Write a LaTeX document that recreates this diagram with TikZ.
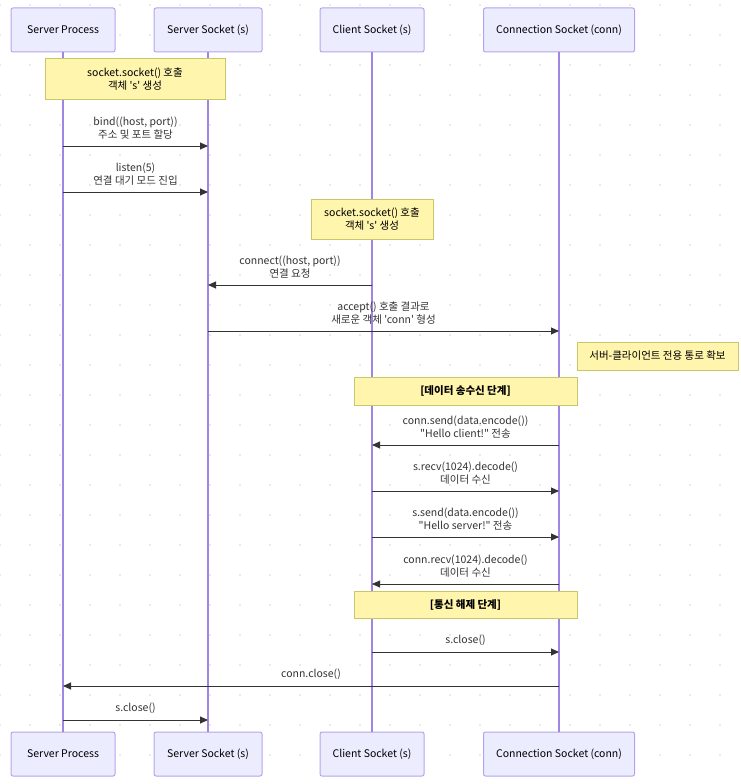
\documentclass[tikz,border=0pt]{standalone}
\usepackage{fontspec}
\newfontfamily\krsans{Noto Sans CJK KR}
\usetikzlibrary{arrows.meta}

\definecolor{actorfill}{HTML}{ECECFF}
\definecolor{actorline}{HTML}{B7A3EC}
\definecolor{lifeline}{HTML}{A085E4}
\definecolor{notefill}{HTML}{FFF5AD}
\definecolor{noteline}{HTML}{C8C86A}
\definecolor{ink}{HTML}{333333}
\definecolor{griddot}{HTML}{E2E2E2}

\begin{document}
\begin{tikzpicture}[
    x=1pt, y=-1pt,
    font=\krsans\fontsize{10.5}{13}\selectfont,
    actor/.style={draw=actorline, fill=actorfill, line width=1pt, rounded corners=2pt, minimum height=44pt, inner sep=0pt, text=black},
    note/.style={draw=noteline, fill=notefill, line width=1pt, align=center, inner sep=0pt, text=black},
    msg/.style={draw=ink, line width=0.9pt, -{Triangle[length=8pt,width=7pt]}},
    lbl/.style={anchor=south, yshift=6pt, align=center, inner sep=0pt, text=ink},
    life/.style={draw=lifeline, line width=1.2pt}
]

    % --- Canvas and dotted background ---
    \useasboundingbox (0,0) rectangle (741,784);
    \foreach \gx in {0,30,...,720}
        \foreach \gy in {5,35,...,785}
            \fill[griddot] (\gx,\gy) circle (1.1pt);

    % --- Participants (top and bottom) ---
    \node[actor, minimum width=104pt] (spT) at (63,30) {Server Process};
    \node[actor, minimum width=108pt] (ssT) at (208,30) {Server Socket (s)};
    \node[actor, minimum width=104pt] (csT) at (372,30) {Client Socket (s)};
    \node[actor, minimum width=151pt] (cnT) at (559,30) {Connection Socket (conn)};

    \node[actor, minimum width=104pt] (spB) at (63,754) {Server Process};
    \node[actor, minimum width=108pt] (ssB) at (208,754) {Server Socket (s)};
    \node[actor, minimum width=104pt] (csB) at (372,754) {Client Socket (s)};
    \node[actor, minimum width=151pt] (cnB) at (559,754) {Connection Socket (conn)};

    % --- Lifelines ---
    \foreach \p in {sp,ss,cs,cn}
        \draw[life] (\p T.south) -- (\p B.north);

    % --- Notes ---
    \node[note, minimum width=180pt, minimum height=40pt] (nServer) at (135,79) {socket.socket() 호출\\객체 's' 생성};
    \node[note, minimum width=122pt, minimum height=40pt] (nClient) at (372,219) {socket.socket() 호출\\객체 's' 생성};
    \node[note, minimum width=161pt, minimum height=28pt] (nPath) at (657.5,356) {서버-클라이언트 전용 통로 확보};
    \node[note, minimum width=223pt, minimum height=28pt, font=\krsans\fontsize{10.5}{13}\selectfont\bfseries] (nData) at (465.5,391) {[데이터 송수신 단계]};
    \node[note, minimum width=223pt, minimum height=27pt, font=\krsans\fontsize{10.5}{13}\selectfont\bfseries] (nClose) at (465.5,604.5) {[통신 해제 단계]};

    % --- Messages ---
    % set up the server socket
    \draw[msg] (spT |- 0,146) -- node[lbl] {bind((host, port))\\주소 및 포트 할당} (ssT |- 0,146);
    \draw[msg] (spT |- 0,192) -- node[lbl] {listen(5)\\연결 대기 모드 진입} (ssT |- 0,192);

    % connect and accept
    \draw[msg] (csT |- 0,285) -- node[lbl] {connect((host, port))\\연결 요청} (ssT |- 0,285);
    \draw[msg] (ssT |- 0,331) -- node[lbl] {accept() 호출 결과로\\새로운 객체 'conn' 형성} (cnT |- 0,331);

    % data exchange
    \draw[msg] (cnT |- 0,445) -- node[lbl] {conn.send(data.encode())\\"Hello client!" 전송} (csT |- 0,445);
    \draw[msg] (csT |- 0,491) -- node[lbl] {s.recv(1024).decode()\\데이터 수신} (cnT |- 0,491);
    \draw[msg] (csT |- 0,537) -- node[lbl] {s.send(data.encode())\\"Hello server!" 전송} (cnT |- 0,537);
    \draw[msg] (cnT |- 0,584) -- node[lbl] {conn.recv(1024).decode()\\데이터 수신} (csT |- 0,584);

    % closing
    \draw[msg] (csT |- 0,652) -- node[lbl] {s.close()} (cnT |- 0,652);
    \draw[msg] (cnT |- 0,686) -- node[lbl] {conn.close()} (spT |- 0,686);
    \draw[msg] (spT |- 0,720) -- node[lbl] {s.close()} (ssT |- 0,720);

\end{tikzpicture}
\end{document}
